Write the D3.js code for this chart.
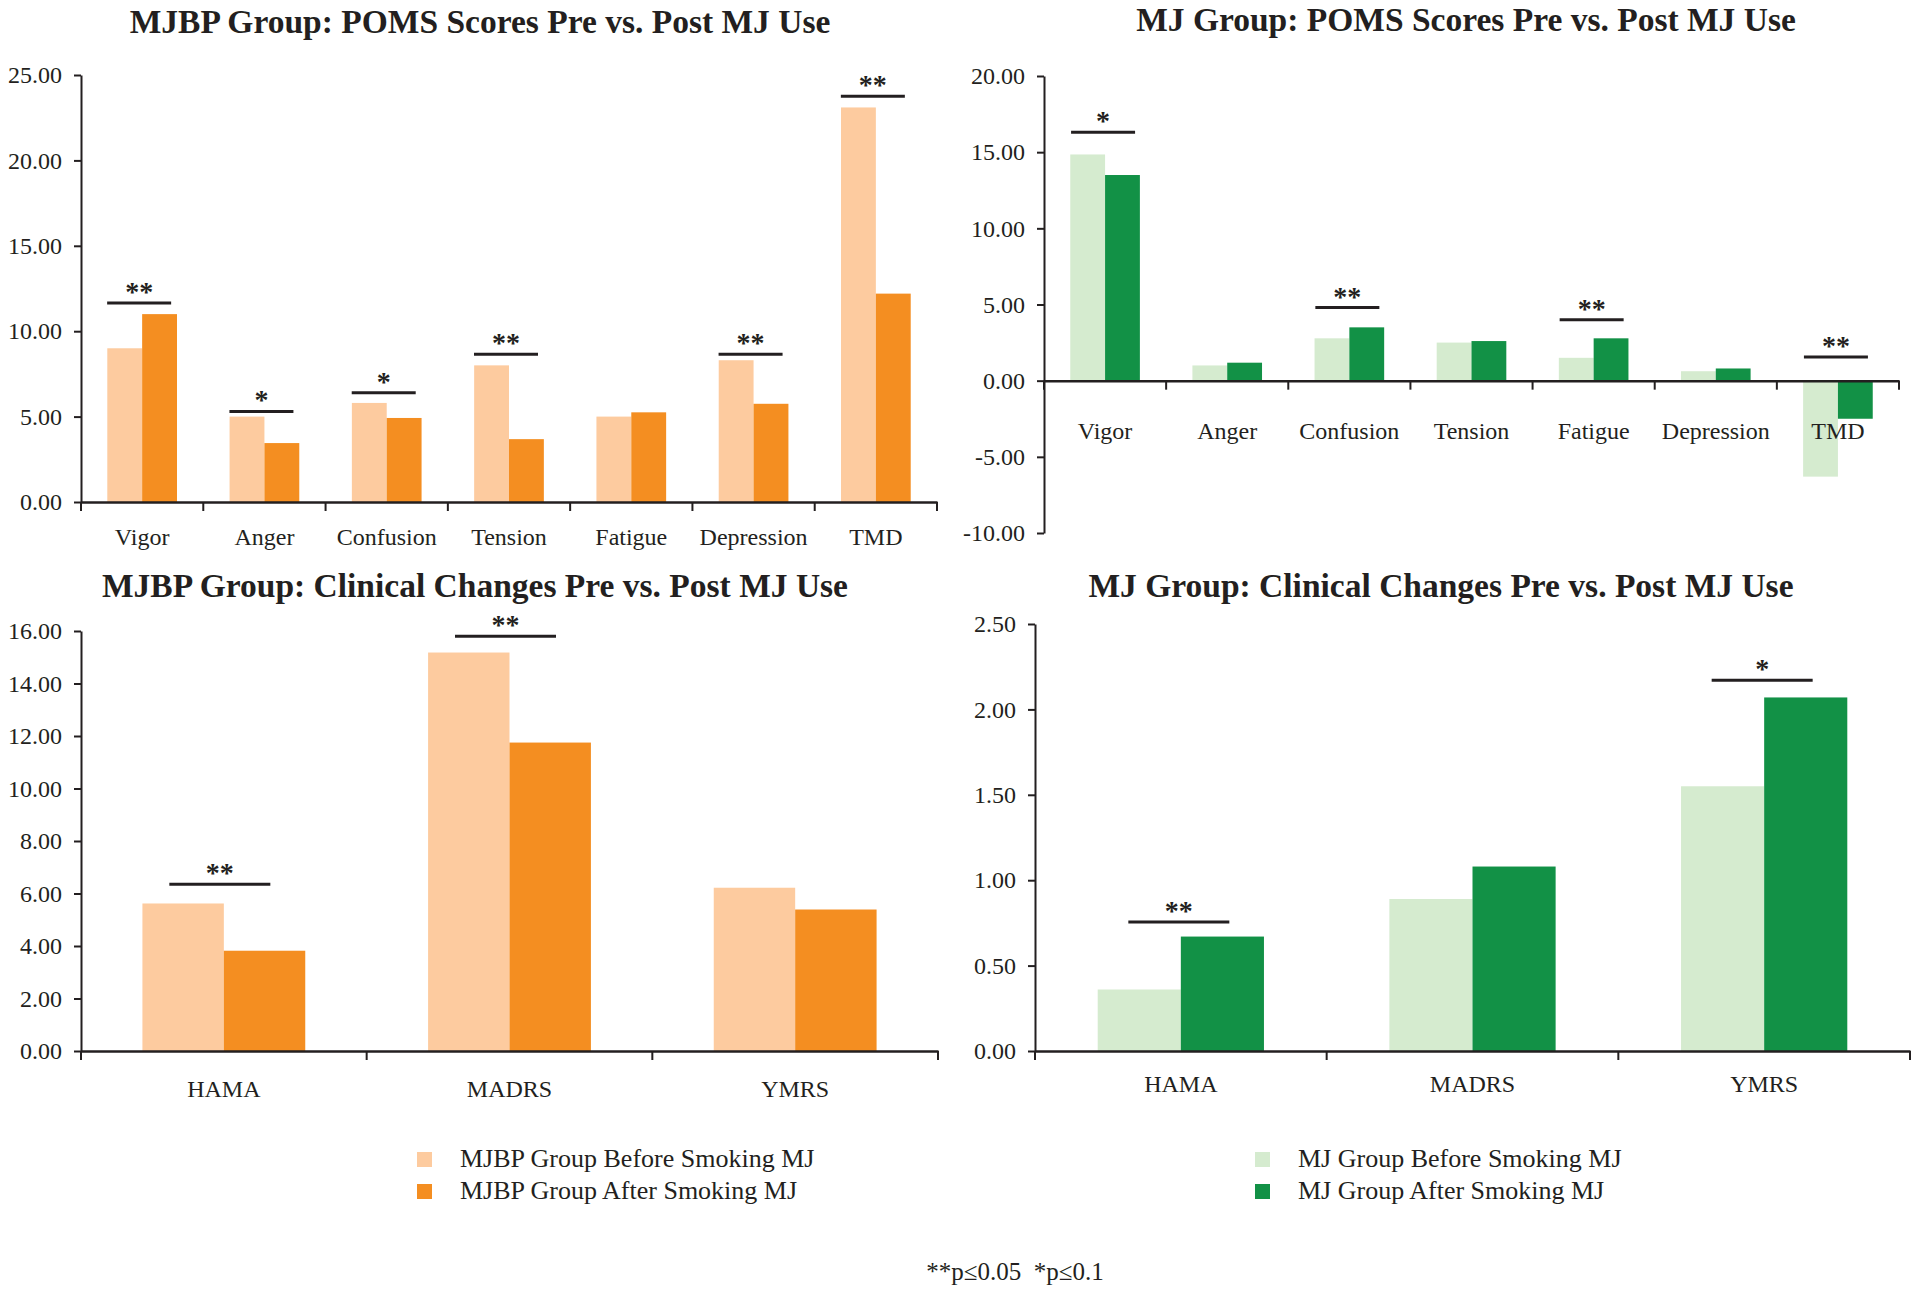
<!DOCTYPE html>
<html>
<head>
<meta charset="utf-8">
<script src="https://cdnjs.cloudflare.com/ajax/libs/d3/7.8.5/d3.min.js"></script>
<style>
  body { margin: 0; background: #fff; }
  svg { display: block; }
  text { font-family: "Liberation Serif", "Times New Roman", serif; fill: #231f20; }
</style>
</head>
<body>
<svg id="chart" width="1920" height="1294"></svg>
<script>
// ---- data ----
const poms_categories = ["Vigor", "Anger", "Confusion", "Tension", "Fatigue", "Depression", "TMD"];
const clinical_categories = ["HAMA", "MADRS", "YMRS"];

const mjbp_poms_before = [9.0, 5.0, 5.8, 8.0, 5.0, 8.3, 23.1];
const mjbp_poms_after  = [11.0, 3.45, 4.92, 3.68, 5.25, 5.75, 12.2];
const mj_poms_before   = [14.85, 1.0, 2.78, 2.5, 1.5, 0.62, -6.3];
const mj_poms_after    = [13.5, 1.18, 3.5, 2.6, 2.78, 0.8, -2.5];

const mjbp_clinical_before = [5.62, 15.18, 6.22];
const mjbp_clinical_after  = [3.82, 11.75, 5.39];
const mj_clinical_before   = [0.36, 0.89, 1.55];
const mj_clinical_after    = [0.67, 1.08, 2.07];

// significance markers and the value where the bracket line sits
const mjbp_poms_sig     = ["**", "*", "*", "**", "", "**", "**"];
const mjbp_poms_sig_at  = [11.65, 5.3, 6.4, 8.65, null, 8.65, 23.75];
const mj_poms_sig       = ["*", "", "**", "", "**", "", "**"];
const mj_poms_sig_at    = [16.3, null, 4.8, null, 4.0, null, 1.55];
const mjbp_clinical_sig    = ["**", "**", ""];
const mjbp_clinical_sig_at = [6.35, 15.8, null];
const mj_clinical_sig      = ["**", "", "*"];
const mj_clinical_sig_at   = [0.755, null, 2.17];

const mjbp_poms_ticks     = [0, 5, 10, 15, 20, 25];
const mj_poms_ticks       = [-10, -5, 0, 5, 10, 15, 20];
const mjbp_clinical_ticks = [0, 2, 4, 6, 8, 10, 12, 14, 16];
const mj_clinical_ticks   = [0, 0.5, 1, 1.5, 2, 2.5];

const mjbp_legend = ["MJBP Group Before Smoking MJ", "MJBP Group After Smoking MJ"];
const mj_legend   = ["MJ Group Before Smoking MJ", "MJ Group After Smoking MJ"];
const footnote = "**p\u22640.05  *p\u22640.1";

const orange = ["#fdcb9f", "#f48e21"];
const green  = ["#d5ebcf", "#129146"];

const svg = d3.select("#chart");
const fmt = d3.formatLocale({decimal: ".", thousands: ",", grouping: [3], currency: ["", ""], minus: "-"})
    .format(".2f");

/**
 * Draw one grouped bar panel
 */
function panel(cfg) {
    const g = svg.append("g");

    const x = d3.scaleBand()
        .domain(cfg.categories)
        .range([cfg.left, cfg.right])
        .paddingInner(0.43)
        .paddingOuter(0.215);
    const xs = d3.scaleBand().domain([0, 1]).range([0, x.bandwidth()]);
    const y = d3.scaleLinear().domain([cfg.min, cfg.max]).range([cfg.bottom, cfg.top]);

    // bars
    const rows = cfg.categories.map((c, i) => ({c: c, v: [cfg.before[i], cfg.after[i]]}));
    g.selectAll("g.cat")
        .data(rows)
        .enter()
        .append("g")
        .attr("transform", d => `translate(${x(d.c)},0)`)
        .selectAll("rect")
        .data(d => d.v)
        .enter()
        .append("rect")
        .attr("x", (d, i) => xs(i))
        .attr("width", xs.bandwidth())
        .attr("y", d => y(Math.max(0, d)))
        .attr("height", d => Math.abs(y(d) - y(0)))
        .attr("fill", (d, i) => cfg.colors[i]);

    // y axis
    const ya = g.append("g")
        .attr("transform", `translate(${cfg.left},0)`)
        .call(d3.axisLeft(y).tickValues(cfg.ticks).tickFormat(fmt)
              .tickSize(7).tickPadding(12).tickSizeOuter(0));
    ya.select(".domain").attr("stroke", "#231f20").attr("stroke-width", 2);
    ya.selectAll(".tick line").attr("stroke", "#231f20").attr("stroke-width", 2);
    ya.selectAll(".tick text").style("font-size", "24px").attr("fill", "#231f20");

    // x axis at zero
    const xa = g.append("g")
        .attr("transform", `translate(0,${y(0)})`)
        .call(d3.axisBottom(x).tickSize(0).tickSizeOuter(0));
    xa.select(".domain").attr("stroke", "#231f20").attr("stroke-width", 2.5);
    xa.selectAll(".tick text")
        .attr("y", cfg.labelY).attr("dy", 0)
        .style("font-size", "24px").attr("fill", "#231f20");

    // boundary ticks
    const bounds = d3.range(cfg.categories.length + 1).map(i => cfg.left + i * x.step());
    g.selectAll("line.bound")
        .data(bounds)
        .enter()
        .append("line")
        .attr("x1", d => d).attr("x2", d => d)
        .attr("y1", y(0)).attr("y2", y(0) + 9)
        .attr("stroke", "#231f20").attr("stroke-width", 2);

    // significance brackets
    const sig = cfg.categories.map((c, i) => ({c: c, s: cfg.sig[i], at: cfg.sigAt[i]}))
        .filter(d => d.s);
    const mid = d => x(d.c) + x.bandwidth() / 2 + cfg.sigShift;
    g.selectAll("line.sig")
        .data(sig)
        .enter()
        .append("line")
        .attr("x1", d => mid(d) - cfg.sigWidth / 2)
        .attr("x2", d => mid(d) + cfg.sigWidth / 2)
        .attr("y1", d => y(d.at)).attr("y2", d => y(d.at))
        .attr("stroke", "#231f20").attr("stroke-width", 3);
    g.selectAll("text.sig")
        .data(sig)
        .enter()
        .append("text")
        .attr("x", d => mid(d))
        .attr("y", d => y(d.at) - 2)
        .attr("text-anchor", "middle")
        .style("font-size", "28px")
        .style("font-weight", "bold")
        .text(d => d.s);

    // title
    g.append("text")
        .attr("x", cfg.titleX)
        .attr("y", cfg.titleY)
        .attr("text-anchor", "middle")
        .style("font-size", "33.5px")
        .style("font-weight", "bold")
        .text(cfg.title);
}

panel({
    title: "MJBP Group: POMS Scores Pre vs. Post MJ Use", titleX: 480, titleY: 33,
    categories: poms_categories, before: mjbp_poms_before, after: mjbp_poms_after,
    sig: mjbp_poms_sig, sigAt: mjbp_poms_sig_at, sigWidth: 64, sigShift: -3,
    ticks: mjbp_poms_ticks, min: 0, max: 25,
    left: 81, right: 937, top: 75, bottom: 502, labelY: 43, colors: orange
});

panel({
    title: "MJ Group: POMS Scores Pre vs. Post MJ Use", titleX: 1466, titleY: 31,
    categories: poms_categories, before: mj_poms_before, after: mj_poms_after,
    sig: mj_poms_sig, sigAt: mj_poms_sig_at, sigWidth: 64, sigShift: -2,
    ticks: mj_poms_ticks, min: -10, max: 20,
    left: 1044, right: 1899, top: 76, bottom: 533, labelY: 58, colors: green
});

panel({
    title: "MJBP Group: Clinical Changes Pre vs. Post MJ Use", titleX: 475, titleY: 597,
    categories: clinical_categories, before: mjbp_clinical_before, after: mjbp_clinical_after,
    sig: mjbp_clinical_sig, sigAt: mjbp_clinical_sig_at, sigWidth: 101, sigShift: -4,
    ticks: mjbp_clinical_ticks, min: 0, max: 16,
    left: 81, right: 938, top: 631, bottom: 1051, labelY: 46, colors: orange
});

panel({
    title: "MJ Group: Clinical Changes Pre vs. Post MJ Use", titleX: 1441, titleY: 597,
    categories: clinical_categories, before: mj_clinical_before, after: mj_clinical_after,
    sig: mj_clinical_sig, sigAt: mj_clinical_sig_at, sigWidth: 101, sigShift: -2,
    ticks: mj_clinical_ticks, min: 0, max: 2.5,
    left: 1035, right: 1910, top: 624, bottom: 1051, labelY: 41, colors: green
});

// legends
function legend(labels, colors, x0, y0) {
    const lg = svg.append("g").attr("transform", `translate(${x0},${y0})`);
    const item = lg.selectAll("g")
        .data(labels)
        .enter()
        .append("g")
        .attr("transform", (d, i) => `translate(0,${i * 32})`);
    item.append("rect")
        .attr("x", 0).attr("y", -15)
        .attr("width", 15).attr("height", 15)
        .attr("fill", (d, i) => colors[i]);
    item.append("text")
        .attr("x", 43).attr("y", 0)
        .style("font-size", "26px")
        .text(d => d);
}
legend(mjbp_legend, orange, 417, 1167);
legend(mj_legend, green, 1255, 1167);

svg.append("text")
    .attr("x", 1015).attr("y", 1280)
    .attr("text-anchor", "middle")
    .style("font-size", "25px")
    .style("white-space", "pre")
    .text(footnote);
</script>
</body>
</html>
